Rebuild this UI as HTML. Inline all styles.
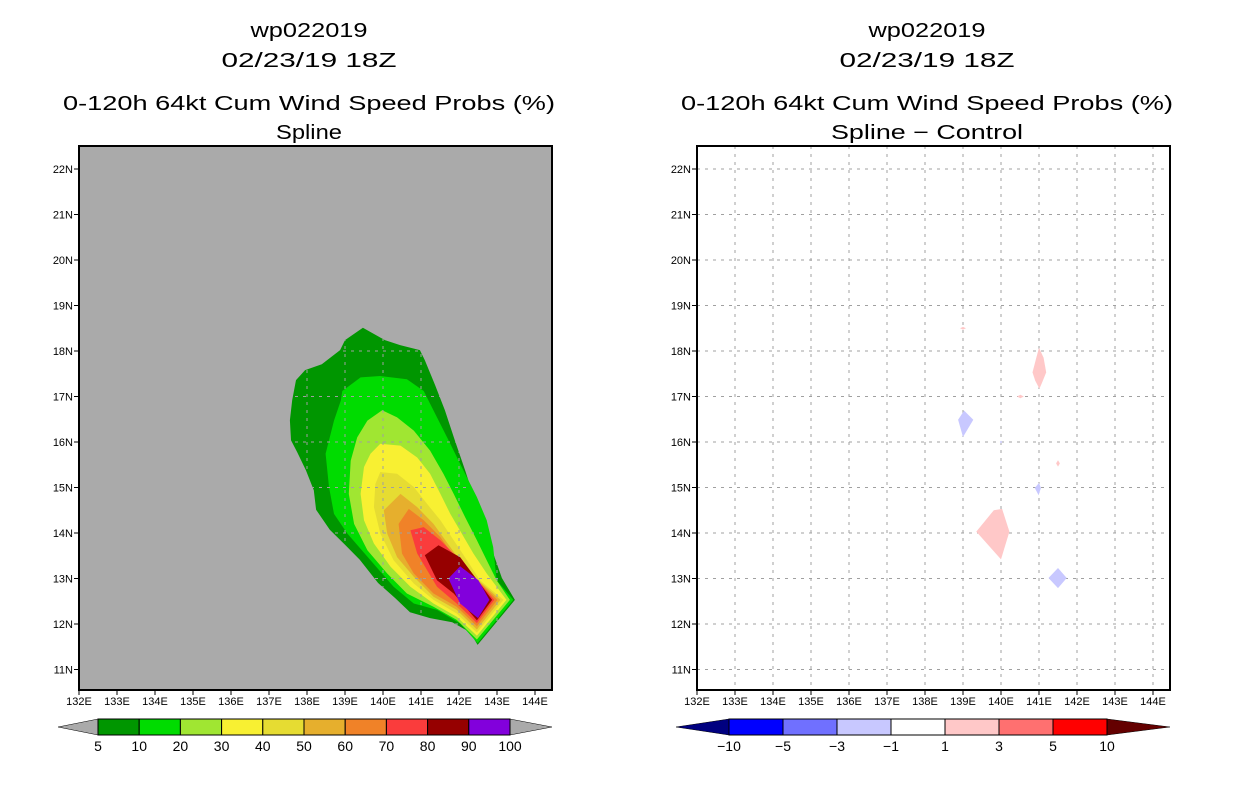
<!DOCTYPE html>
<html><head><meta charset="utf-8"><style>
body{margin:0;background:#fff;}
svg{display:block;font-family:"Liberation Sans",sans-serif;}
</style></head><body>
<svg id="s" width="1236" height="800" viewBox="0 0 1236 800" xmlns="http://www.w3.org/2000/svg">
<g font-size="20" text-anchor="middle" fill="#000">
<text x="309" y="37" textLength="117" lengthAdjust="spacingAndGlyphs">wp022019</text>
<text x="309" y="67" textLength="175" lengthAdjust="spacingAndGlyphs">02/23/19 18Z</text>
<text x="309" y="110" textLength="492" lengthAdjust="spacingAndGlyphs">0-120h 64kt Cum Wind Speed Probs (%)</text>
<text x="309" y="139" textLength="66" lengthAdjust="spacingAndGlyphs">Spline</text>
</g>
<g font-size="20" text-anchor="middle" fill="#000">
<text x="927" y="37" textLength="117" lengthAdjust="spacingAndGlyphs">wp022019</text>
<text x="927" y="67" textLength="175" lengthAdjust="spacingAndGlyphs">02/23/19 18Z</text>
<text x="927" y="110" textLength="492" lengthAdjust="spacingAndGlyphs">0-120h 64kt Cum Wind Speed Probs (%)</text>
<text x="927" y="139" textLength="192" lengthAdjust="spacingAndGlyphs">Spline − Control</text>
</g>
<g id="left"></g>
<g id="right"></g>
<g id="cbl"></g>
<g id="cbr"></g>
</svg>
<script>
const lonTicks=[132,133,134,135,136,137,138,139,140,141,142,143,144];
const latTicks=[11,12,13,14,15,16,17,18,19,20,21,22];
const probLevels=[5,10,20,30,40,50,60,70,80,90];
const probColors=['#009600','#00dc00','#a0e632','#f8f032','#e6dc32','#e6af2d','#f08228','#fa3c3c','#960000','#8200dc'];
const probLabels=['5','10','20','30','40','50','60','70','80','90','100'];
const p5=[[139.47,18.51],[139.0,18.24],[138.87,18.02],[138.39,17.71],[137.95,17.58],[137.71,17.36],[137.61,16.92],[137.55,16.48],[137.58,16.04],[137.74,15.78],[137.97,15.38],[138.18,14.94],[138.24,14.51],[138.6,14.07],[139.0,13.74],[139.39,13.41],[139.87,12.90],[140.32,12.57],[140.71,12.26],[141.24,12.13],[141.82,12.04],[142.29,11.82],[142.49,11.54],[143.47,12.53],[143.13,13.01],[142.82,13.74],[142.5,14.51],[142.16,15.38],[141.89,16.04],[141.63,16.70],[141.37,17.25],[141.1,17.80],[140.97,18.02],[140.45,18.13],[140.05,18.24]];
const p10=[[138.93,17.12],[139.41,17.42],[139.93,17.45],[140.63,17.38],[141.07,17.12],[141.42,16.54],[141.77,15.96],[142.07,15.45],[142.47,14.79],[142.73,14.28],[142.90,13.69],[142.99,12.96],[143.43,12.53],[142.49,11.58],[142.03,12.01],[141.42,12.31],[140.81,12.45],[140.28,12.82],[139.67,13.40],[139.06,13.99],[138.71,14.42],[138.58,15.01],[138.49,15.74],[138.71,16.47],[138.89,16.91]];
const p20=[[139.98,16.70],[140.37,16.54],[140.81,16.25],[141.24,15.81],[141.59,15.30],[141.86,14.86],[142.16,14.35],[142.47,13.84],[142.73,13.40],[142.99,12.96],[143.34,12.53],[142.47,11.66],[141.94,12.09],[141.33,12.38],[140.63,12.67],[140.11,13.11],[139.59,13.62],[139.24,14.20],[139.10,14.86],[139.15,15.59],[139.32,16.10],[139.59,16.47]];
const p30=[[139.93,15.96],[140.46,15.92],[140.90,15.66],[141.24,15.30],[141.51,14.86],[141.77,14.42],[142.07,13.99],[142.38,13.55],[142.73,13.11],[143.25,12.53],[142.47,11.74],[141.94,12.16],[141.33,12.45],[140.72,12.82],[140.20,13.26],[139.76,13.77],[139.50,14.28],[139.41,14.86],[139.50,15.45],[139.67,15.74]];
const p40=[[139.93,15.34],[140.37,15.30],[140.81,15.01],[141.16,14.64],[141.51,14.28],[141.86,13.84],[142.21,13.40],[142.55,12.96],[143.17,12.53],[142.47,11.81],[141.94,12.23],[141.33,12.53],[140.81,12.89],[140.28,13.40],[139.93,13.99],[139.76,14.57],[139.80,15.08]];
const p50=[[140.02,14.50],[140.46,14.86],[140.90,14.57],[141.33,14.20],[141.77,13.69],[142.21,13.18],[143.09,12.53],[142.47,11.88],[141.94,12.31],[141.33,12.60],[140.81,13.04],[140.37,13.47],[140.11,13.99]];
const p60=[[140.41,14.20],[140.68,14.53],[141.07,14.28],[141.51,13.91],[141.94,13.40],[143.01,12.53],[142.47,11.95],[141.94,12.38],[141.33,12.67],[140.81,13.11],[140.50,13.55]];
const p70=[[140.72,14.06],[141.07,14.13],[141.51,13.84],[142.03,13.40],[142.93,12.53],[142.47,12.02],[141.94,12.45],[141.42,12.82],[140.90,13.55]];
const p80=[[141.10,13.51],[141.46,13.73],[142.03,13.47],[142.87,12.53],[142.47,12.08],[141.86,12.67],[141.42,12.96]];
const p90=[[141.72,13.00],[142.03,13.27],[142.51,12.96],[142.80,12.53],[142.50,12.13],[142.03,12.45]];
const probPolys=[p5,p10,p20,p30,p40,p50,p60,p70,p80,p90];

const diffColors=['#000080','#0000ff','#7070ff','#c8c8ff','#ffffff','#ffc8c8','#ff7070','#ff0000','#640000'];
const diffLabels=['−10','−5','−3','−1','1','3','5','10'];
const diffPolyVals=[2,2,2,-2,2,-2,2,-2,-2];
const d1=[[138.92,18.5],[139.0,18.53],[139.08,18.5],[139.0,18.47]];
const d2=[[141.0,18.07],[141.12,17.85],[141.19,17.53],[141.08,17.3],[141.01,17.17],[140.9,17.35],[140.83,17.53],[140.93,17.85]];
const d3=[[140.42,17.0],[140.51,17.04],[140.6,17.0],[140.51,16.96]];
const d4=[[139.03,16.69],[139.27,16.49],[139.0,16.11],[138.87,16.49]];
const d5=[[141.5,15.6],[141.55,15.53],[141.5,15.46],[141.45,15.53]];
const d6=[[141.0,15.1],[141.05,14.99],[140.99,14.83],[140.89,14.99]];
const d7=[[139.81,14.50],[140.03,14.53],[140.22,14.03],[140.0,13.42],[139.35,14.03]];
const d8=[[141.5,13.23],[141.73,13.01],[141.5,12.79],[141.25,13.01]];
const d9=[[140.0,16.03],[140.03,16.0],[140.0,15.97],[139.97,16.0]];
const diffPolys=[d1,d2,d3,d4,d5,d6,d7,d8,d9];

const NS='http://www.w3.org/2000/svg';
function mk(tag,attrs,parent){const e=document.createElementNS(NS,tag);for(const k in attrs)e.setAttribute(k,attrs[k]);parent.appendChild(e);return e;}
function axes(ox){
  return {x:lon=>ox+79+(lon-132)*38, y:lat=>169+(22-lat)*45.5, L:ox+79, R:ox+552, T:146, B:690};
}
function ptsStr(poly,a){return poly.map(p=>a.x(p[0]).toFixed(1)+','+a.y(p[1]).toFixed(1)).join(' ');}
function grid(g,a,clipId){
  const gg=mk('g',clipId?{'clip-path':'url(#'+clipId+')'}:{},g);
  
  
  lonTicks.forEach(l=>{const ln=mk('line',{x1:a.x(l),x2:a.x(l),y1:a.T,y2:a.B,stroke:'#a0a0a0','stroke-width':1,'stroke-dasharray':'3,5'},gg);
    
    });
  latTicks.forEach(l=>{const ln=mk('line',{x1:a.L,x2:a.R,y1:a.y(l),y2:a.y(l),stroke:'#a0a0a0','stroke-width':1,'stroke-dasharray':'3,5'},gg);
    
    });
}
function frameAndTicks(g,a){
  const f=mk('rect',{x:a.L,y:a.T,width:a.R-a.L,height:a.B-a.T,fill:'none',stroke:'#000','stroke-width':2},g);
  
  
  lonTicks.forEach(l=>{
    mk('line',{x1:a.x(l),x2:a.x(l),y1:a.B,y2:a.B+5,stroke:'#000'},g);
    const t=mk('text',{x:a.x(l),y:a.B+15,'font-size':11,'text-anchor':'middle'},g);
    t.textContent=l+'E';
    
    
  });
  latTicks.forEach(l=>{
    mk('line',{x1:a.L-5,x2:a.L,y1:a.y(l),y2:a.y(l),stroke:'#000'},g);
    const t=mk('text',{x:a.L-6,y:a.y(l)+4,'font-size':11,'text-anchor':'end'},g);
    t.textContent=l+'N';
    
    
  });
}
const svg=document.getElementById('s');
const La=axes(0), lg=document.getElementById('left');
const bg=mk('rect',{x:La.L,y:La.T,width:La.R-La.L,height:La.B-La.T,fill:'#aaaaaa'},lg);


const defs=mk('defs',{},svg);
const cp=mk('clipPath',{id:'outer'},defs);
mk('polygon',{points:ptsStr(p5,La)},cp);
probPolys.forEach((p,i)=>{
  const e=mk('polygon',{points:ptsStr(p,La),fill:probColors[i]},lg);
  
  
});
grid(lg,La,'outer');
frameAndTicks(lg,La);
const Ra=axes(618), rg=document.getElementById('right');
const rbg=mk('rect',{x:Ra.L,y:Ra.T,width:Ra.R-Ra.L,height:Ra.B-Ra.T,fill:'#fff'},rg);


grid(rg,Ra,null);
diffPolys.forEach((p,i)=>{
  const c=diffPolyVals[i]>0?diffColors[5]:diffColors[3];
  const e=mk('polygon',{points:ptsStr(p,Ra),fill:c},rg);
  
  
});
frameAndTicks(rg,Ra);
function colorbar(g,x0,x1,tl,tr,cols,labels,triL,triR){
  const n=cols.length, w=(x1-x0)/n, y0=719,y1=735,ym=727;
  const a=mk('polygon',{points:`${tl},${ym} ${x0},${y0} ${x0},${y1}`,fill:triL,stroke:'#000','stroke-width':0.5},g);
  
  
  const b=mk('polygon',{points:`${tr},${ym} ${x1},${y0} ${x1},${y1}`,fill:triR,stroke:'#000','stroke-width':0.5},g);
  
  
  cols.forEach((c,i)=>{
    const r=mk('rect',{x:x0+i*w,y:y0,width:w,height:y1-y0,fill:c,stroke:'#000','stroke-width':1},g);
    
    
  });
  labels.forEach((l,i)=>{
    const t=mk('text',{x:x0+i*w,y:751,'font-size':14,'text-anchor':'middle'},g);
    t.textContent=l;
    
    
  });
}
colorbar(document.getElementById('cbl'),98,510,58,552,probColors,probLabels,'#aaaaaa','#aaaaaa');
colorbar(document.getElementById('cbr'),729,1107,676,1170,diffColors.slice(1,8),diffLabels,diffColors[0],diffColors[8]);
</script>
</body></html>
